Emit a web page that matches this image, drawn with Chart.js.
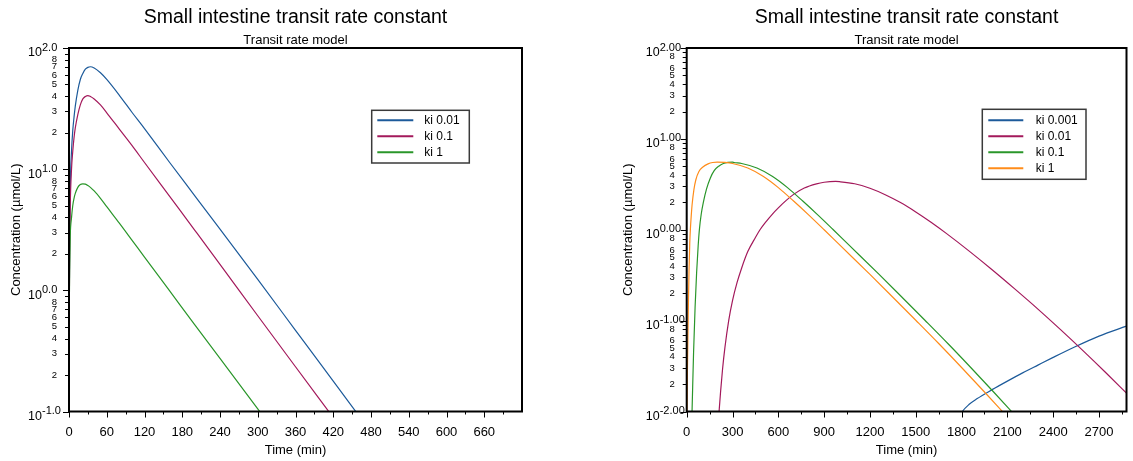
<!DOCTYPE html>
<html>
<head>
<meta charset="utf-8">
<title>Small intestine transit rate constant</title>
<script src="https://cdn.jsdelivr.net/npm/chart.js@4.4.1/dist/chart.umd.min.js"></script>
<style>
  html, body { margin: 0; padding: 0; background: #fff; }
  #wrap { position: relative; width: 1133px; height: 461px; }
  canvas { position: absolute; top: 0; }
  #left { left: 0; }
  #right { left: 566px; }
</style>
</head>
<body>
<div id="wrap">
  <canvas id="left" width="566" height="461"></canvas>
  <canvas id="right" width="567" height="461"></canvas>
</div>
<script>
const FONT = "'Liberation Sans', Arial, sans-serif";

// ---- left panel: 0-720 min ----
const leftTime = [0, 1, 2, 4, 6, 8, 10, 14, 18, 22, 26, 30, 34, 40, 50, 60, 80, 100, 120, 160, 200, 240, 300, 360, 420, 480];
const leftKi001 = [0.251, 2.51, 7.08, 14.1, 20.9, 26.9, 33.1, 44.7, 55.0, 61.7, 66.8, 69.2, 70.0, 68.4, 62.4, 55.0, 40.7, 29.5, 21.6, 11.35, 6.03, 3.20, 1.23, 0.468, 0.178, 0.0676];
const leftKi01 = [0.251, 2.00, 5.01, 10.0, 14.1, 18.2, 21.9, 28.2, 33.9, 38.0, 39.8, 40.5, 39.8, 38.0, 33.9, 29.2, 21.4, 15.7, 11.35, 5.96, 3.13, 1.64, 0.617, 0.234, 0.0891, 0.0339];
const leftKi1 = [0.398, 1.41, 2.82, 3.98, 5.01, 5.75, 6.31, 7.08, 7.46, 7.57, 7.52, 7.33, 7.08, 6.61, 5.75, 4.90, 3.59, 2.60, 1.88, 0.989, 0.519, 0.275, 0.105, 0.0398, 0.0151, 0.00575];

const leftXTicks = [0, 60, 120, 180, 240, 300, 360, 420, 480, 540, 600, 660];
const leftXMinor = [30, 90, 150, 210, 270, 330, 390, 450, 510, 570, 630, 690];
const leftYMajor = [0.1, 1, 10, 100];
const leftYExp = ['-1.0', '0.0', '1.0', '2.0'];
const leftYMinorLabels = ['2', '3', '4', '5', '6', '7', '8'];

// ---- right panel: 0-2880 min ----
const rightTimeKi0001 = [1790, 1805, 1850, 1900, 2000, 2100, 2200, 2300, 2400, 2540, 2700, 2880];
const rightKi0001 = [0.009, 0.01, 0.012, 0.0138, 0.0174, 0.0216, 0.0266, 0.0324, 0.0394, 0.0513, 0.0676, 0.0871];

const rightTimeKi001 = [205, 212, 222, 235, 250, 275, 300, 330, 360, 400, 450, 480, 520, 560, 600, 650, 700, 770, 850, 900, 975,
  1000, 1100, 1200, 1300, 1400, 1500, 1600, 1700, 1850, 2000, 2150, 2300, 2450, 2600, 2740, 2880];
const rightKi001 = [0.0072, 0.01, 0.0166, 0.0295, 0.0501, 0.100, 0.166, 0.263, 0.380, 0.575, 0.822, 1.00, 1.23, 1.48, 1.74, 2.09, 2.45, 2.88, 3.20, 3.33, 3.40,
  3.38, 3.21, 2.86, 2.43, 1.99, 1.57, 1.21, 0.912, 0.582, 0.363, 0.222, 0.134, 0.0791, 0.0459, 0.0272, 0.0159];

const rightTimeKi01 = [30, 35, 45, 55, 65, 75, 83, 95, 110, 130, 155, 180, 210, 240, 270, 300, 310, 360, 460, 560, 660, 760, 860, 960, 1060, 1260, 1410, 1560, 1710, 1860, 2010, 2160];
const rightKi01 = [0.005, 0.01, 0.0447, 0.141, 0.339, 0.661, 1.00, 1.48, 2.04, 2.82, 3.72, 4.47, 5.01, 5.35, 5.51, 5.55, 5.50, 5.36, 4.78, 3.88, 2.91, 2.07, 1.45, 1.00, 0.685, 0.323, 0.181, 0.101, 0.0560, 0.0305, 0.0164, 0.0087];

const rightTimeKi1 = [0, 5, 10, 15, 20, 25, 30, 35, 47, 60, 80, 106, 140, 170, 200, 250, 300, 400, 500, 600, 700, 800, 900, 1000, 1200, 1350, 1500, 1650, 1800, 1950, 2100];
const rightKi1 = [0.005, 0.0302, 0.120, 0.347, 0.708, 1.07, 1.45, 1.86, 2.75, 3.55, 4.37, 4.90, 5.31, 5.50, 5.55, 5.50, 5.36, 4.78, 3.88, 2.91, 2.07, 1.45, 1.00, 0.685, 0.323, 0.181, 0.101, 0.0560, 0.0305, 0.0164, 0.0087];

const rightXTicks = [0, 300, 600, 900, 1200, 1500, 1800, 2100, 2400, 2700];
const rightXMinor = [150, 450, 750, 1050, 1350, 1650, 1950, 2250, 2550, 2850];
const rightYMajor = [0.01, 0.1, 1, 10, 100];
const rightYExp = ['-2.00', '-1.00', '0.00', '1.00', '2.00'];
const rightYMinorLabels = ['2', '3', '4', '5', '6', '8'];

const BLUE = '#1c5a9a';
const CRIMSON = '#a3195b';
const GREEN = '#2a962a';
const ORANGE = '#ff8c1a';

Chart.defaults.font.family = FONT;
Chart.defaults.color = '#000';

// axis ticks, superscript decade labels, frame and boxed legend
function framePlugin(cfg) {
  return {
    id: 'frame',
    afterDraw(chart) {
      const { ctx, chartArea: a, scales: { x, y } } = chart;
      ctx.save();
      ctx.strokeStyle = '#000';
      ctx.fillStyle = '#000';
      ctx.lineWidth = 1;

      ctx.beginPath();
      cfg.xTicks.forEach(v => {
        const px = Math.round(x.getPixelForValue(v)) + 0.5;
        ctx.moveTo(px, a.bottom);
        ctx.lineTo(px, a.bottom + 6);
      });
      cfg.xMinor.forEach(v => {
        const px = Math.round(x.getPixelForValue(v)) + 0.5;
        ctx.moveTo(px, a.bottom);
        ctx.lineTo(px, a.bottom + 3);
      });
      cfg.yMajor.forEach((d, i) => {
        const py = Math.round(y.getPixelForValue(d)) + 0.5;
        ctx.moveTo(a.left - 6, py);
        ctx.lineTo(a.left, py);
        if (i === cfg.yMajor.length - 1) return;
        for (let m = 2; m <= 9; m++) {
          const p = Math.round(y.getPixelForValue(m * d)) + 0.5;
          ctx.moveTo(a.left - 4, p);
          ctx.lineTo(a.left, p);
        }
      });
      ctx.stroke();

      // minor labels inside each decade
      ctx.font = '9.5px ' + FONT;
      ctx.textAlign = 'right';
      ctx.textBaseline = 'middle';
      cfg.yMajor.slice(0, -1).forEach(d => {
        cfg.yMinor.forEach(lbl => {
          ctx.fillText(lbl, a.left - 12, y.getPixelForValue(Number(lbl) * d));
        });
      });

      // 10^exp labels
      cfg.yMajor.forEach((d, i) => {
        const py = y.getPixelForValue(d);
        ctx.font = '12.5px ' + FONT;
        ctx.textAlign = 'right';
        ctx.fillText('10', a.left - 27, py + 5);
        ctx.font = '11px ' + FONT;
        ctx.textAlign = 'left';
        ctx.fillText(cfg.yExp[i], a.left - 27, py - 0.5);
      });

      ctx.lineWidth = 2;
      ctx.strokeRect(a.left, a.top, a.right - a.left, a.bottom - a.top);

      const L = cfg.legend;
      const lx = a.left + L.dx;
      const ly = a.top + L.dy;
      ctx.fillStyle = '#fff';
      ctx.fillRect(lx, ly, L.w, L.h);
      ctx.lineWidth = 1.5;
      ctx.strokeStyle = '#3a3a3a';
      ctx.strokeRect(lx, ly, L.w, L.h);
      ctx.font = '12px ' + FONT;
      ctx.textAlign = 'left';
      ctx.textBaseline = 'middle';
      cfg.legendOrder.forEach((di, row) => {
        const ds = chart.data.datasets[di];
        const ry = ly + L.firstRow + row * 16;
        ctx.strokeStyle = ds.borderColor;
        ctx.lineWidth = 2;
        ctx.beginPath();
        ctx.moveTo(lx + L.lineFrom, ry);
        ctx.lineTo(lx + L.lineTo, ry);
        ctx.stroke();
        ctx.fillStyle = '#000';
        ctx.fillText(ds.label, lx + L.textX, ry);
      });
      ctx.restore();
    }
  };
}

function makeChart(id, cfg) {
  return new Chart(document.getElementById(id), {
    type: 'line',
    data: {
      datasets: cfg.series.map(s => ({
        label: s.label,
        data: s.time.map((t, i) => ({ x: t, y: s.values[i] })),
        borderColor: s.color,
        borderWidth: 1.2,
        pointRadius: 0,
        fill: false,
        cubicInterpolationMode: 'monotone'
      }))
    },
    options: {
      responsive: false,
      animation: false,
      devicePixelRatio: 1,
      layout: { padding: { left: cfg.padLeft, right: cfg.padRight, top: 0, bottom: 0 } },
      plugins: {
        legend: { display: false },
        tooltip: { enabled: false },
        title: {
          display: true,
          fullSize: false,
          text: 'Small intestine transit rate constant',
          color: '#000',
          font: { size: 19.5, weight: 'normal' },
          padding: { top: 5.5, bottom: 3.5 }
        },
        subtitle: {
          display: true,
          fullSize: false,
          text: 'Transit rate model',
          color: '#000',
          font: { size: 13, weight: 'normal' },
          padding: { top: 0, bottom: 0 }
        }
      },
      scales: {
        x: {
          type: 'linear',
          min: 0,
          max: cfg.xMax,
          afterBuildTicks: s => { s.ticks = cfg.xTicks.map(v => ({ value: v })); },
          afterFit: s => { s.height = 49.5; },
          ticks: { font: { size: 13 }, color: '#000', padding: 13, maxRotation: 0, autoSkip: false, callback: v => String(v) },
          grid: { display: false, drawTicks: false },
          border: { display: false },
          title: { display: true, text: 'Time (min)', font: { size: 13 }, color: '#000', padding: { top: 0, bottom: 2.5 } }
        },
        y: {
          type: 'logarithmic',
          min: cfg.yMajor[0],
          max: cfg.yMajor[cfg.yMajor.length - 1],
          afterFit: s => { s.width = cfg.yWidth; },
          ticks: { display: false },
          grid: { display: false, drawTicks: false },
          border: { display: false },
          title: { display: true, text: 'Concentration (µmol/L)', font: { size: 13 }, color: '#000', padding: { top: 8.3, bottom: 0 } }
        }
      }
    },
    plugins: [framePlugin(cfg)]
  });
}

makeChart('left', {
  xMax: 720,
  padLeft: 0,
  padRight: 44,
  yWidth: 69,
  xTicks: leftXTicks,
  xMinor: leftXMinor,
  yMajor: leftYMajor,
  yExp: leftYExp,
  yMinor: leftYMinorLabels,
  series: [
    { label: 'ki 1', time: leftTime, values: leftKi1, color: GREEN },
    { label: 'ki 0.1', time: leftTime, values: leftKi01, color: CRIMSON },
    { label: 'ki 0.01', time: leftTime, values: leftKi001, color: BLUE }
  ],
  legendOrder: [2, 1, 0],
  legend: { dx: 302.7, dy: 62.3, w: 97.6, h: 52.7, firstRow: 10, lineFrom: 5.6, lineTo: 41.6, textX: 52.6 }
});

makeChart('right', {
  xMax: 2880,
  padLeft: 46,
  padRight: 6.5,
  yWidth: 74.7,
  xTicks: rightXTicks,
  xMinor: rightXMinor,
  yMajor: rightYMajor,
  yExp: rightYExp,
  yMinor: rightYMinorLabels,
  series: [
    { label: 'ki 1', time: rightTimeKi1, values: rightKi1, color: ORANGE },
    { label: 'ki 0.1', time: rightTimeKi01, values: rightKi01, color: GREEN },
    { label: 'ki 0.01', time: rightTimeKi001, values: rightKi001, color: CRIMSON },
    { label: 'ki 0.001', time: rightTimeKi0001, values: rightKi0001, color: BLUE }
  ],
  legendOrder: [3, 2, 1, 0],
  legend: { dx: 295.6, dy: 61.3, w: 103.7, h: 70, firstRow: 11, lineFrom: 6, lineTo: 41, textX: 53.4 }
});
</script>
</body>
</html>
